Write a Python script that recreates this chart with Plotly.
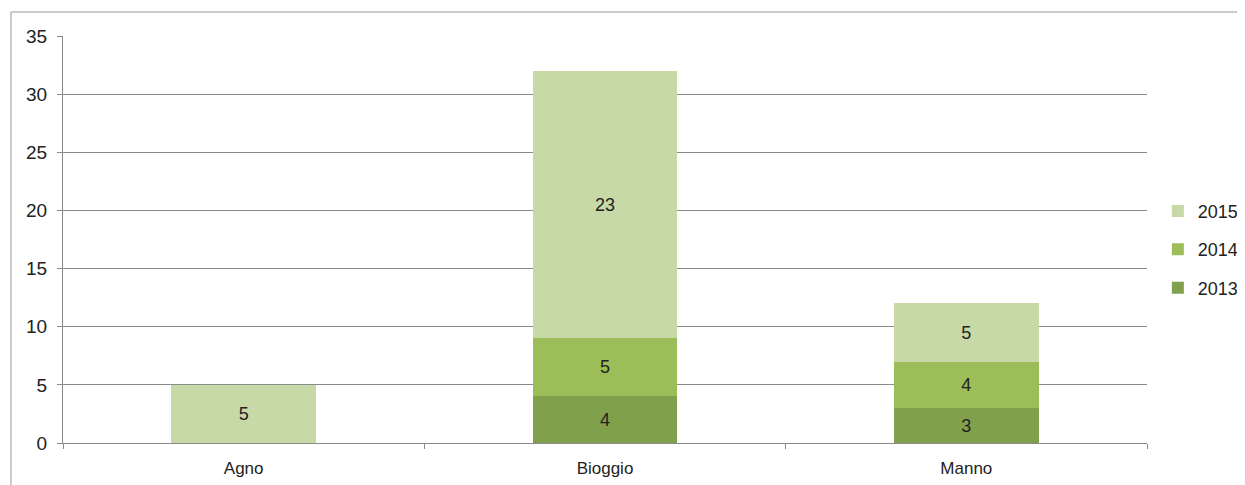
import plotly.graph_objects as go

categories = ["Agno", "Bioggio", "Manno"]
years = ["2013", "2014", "2015"]
values_2013 = [None, 4, 3]
values_2014 = [None, 5, 4]
values_2015 = [5, 23, 5]
colors = {"2013": "#80a04c", "2014": "#9cbd57", "2015": "#c6d9a6"}
legend_rank = {"2015": 1, "2014": 2, "2013": 3}

FONT = "Liberation Sans, Arial, sans-serif"

fig = go.Figure()
for yr, vals in zip(years, [values_2013, values_2014, values_2015]):
    fig.add_trace(go.Bar(
        x=categories, y=vals, name=yr, legendgroup=yr, legendrank=legend_rank[yr],
        marker=dict(color=colors[yr], line=dict(width=0)),
        text=[str(v) if v else "" for v in vals],
        textposition="inside", insidetextanchor="middle",
        textfont=dict(family=FONT, size=18, color="#222222"),
        width=0.4,
    ))

# page body has an 8px margin, so the figure is sized to fit the 1245x485 window
fig.update_layout(
    barmode="stack",
    width=1237, height=477,
    margin=dict(l=55, r=98, t=28, b=42, autoexpand=False),
    paper_bgcolor="white", plot_bgcolor="white",
    font=dict(family=FONT, size=17, color="#222222"),
    legend=dict(traceorder="grouped", x=1.01, xanchor="left", y=0.475, yanchor="middle",
                font=dict(size=18), tracegroupgap=12, itemwidth=30),
    showlegend=True,
    shapes=[
        dict(type="line", xref="paper", yref="paper", x0=-0.048, x1=1.1, y0=1.059, y1=1.059,
             line=dict(color="#999999", width=1)),
        dict(type="line", xref="paper", yref="paper", x0=-0.048, x1=-0.048, y0=-0.2, y1=1.059,
             line=dict(color="#999999", width=1)),
    ],
)
fig.update_yaxes(range=[0, 35], dtick=5, showgrid=True, gridcolor="#8a8a8a", gridwidth=1,
                 showline=True, linecolor="#8a8a8a", ticks="outside", ticklen=5, tickcolor="#8a8a8a",
                 tickfont=dict(size=19), zeroline=False, ticklabelstandoff=6)
fig.update_xaxes(showline=True, linecolor="#8a8a8a", ticks="outside", tickson="boundaries",
                 ticklen=5, tickcolor="#8a8a8a", tickfont=dict(size=17), ticklabelstandoff=10)

fig.write_html("out.html")
